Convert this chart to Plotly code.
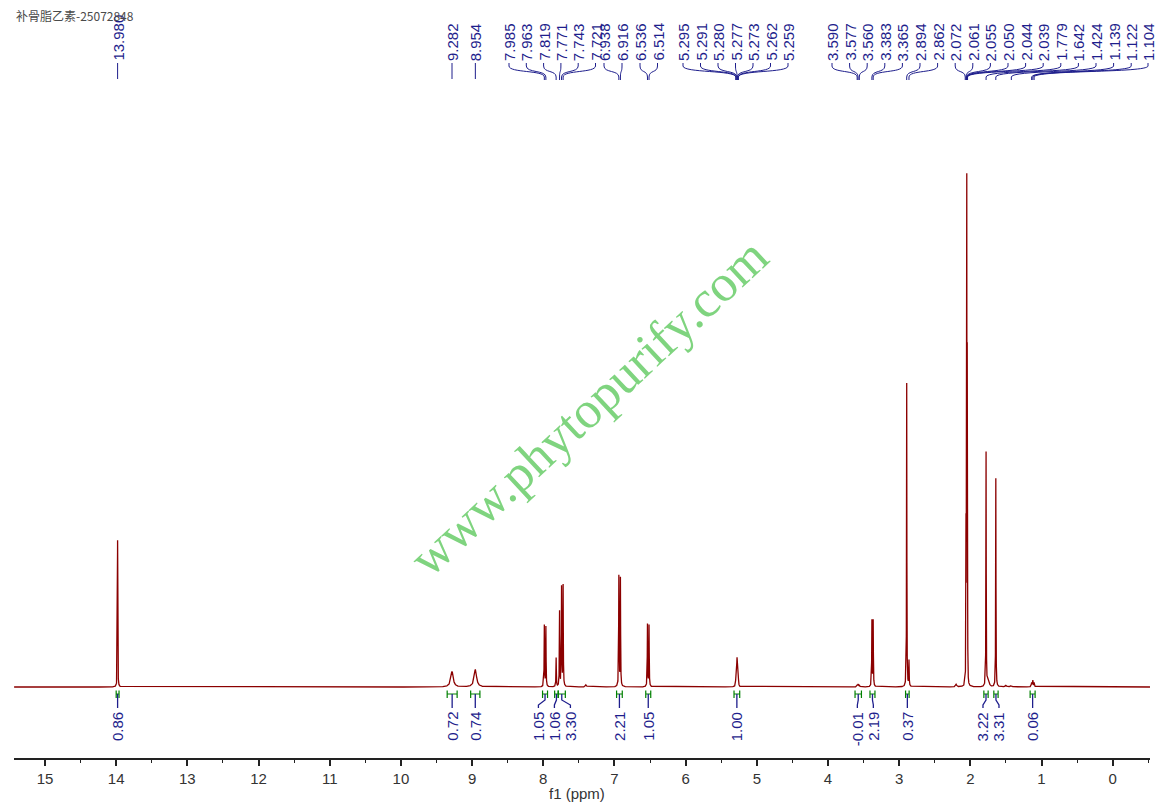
import numpy as np
import plotly.graph_objects as go

title_text = "补骨脂乙素-25072848"
watermark_text = "www.phytopurify.com"

# ---- spectrum lines: shift (ppm), relative height (tallest = 100), half width (ppm)
line_ppm = [13.980, 9.282, 8.954, 7.985, 7.963, 7.819, 7.771, 7.743, 7.721, 7.40,
            6.938, 6.916, 6.536, 6.514,
            5.295, 5.291, 5.280, 5.277, 5.273, 5.262, 5.259,
            3.590, 3.577, 3.560, 3.383, 3.365, 2.894, 2.862, 2.20,
            2.072, 2.061, 2.055, 2.050, 2.044, 2.039,
            1.779, 1.755, 1.740, 1.642, 1.50, 1.424, 1.139, 1.122, 1.104]
line_height = [28.5, 3.0, 3.4, 11.9, 11.6, 5.6, 14.6, 19.2, 19.6, 0.4,
               21.4, 21.0, 12.1, 11.9,
               0.9, 1.15, 2.5, 2.75, 2.3, 1.15, 0.9,
               0.35, 0.45, 0.35, 12.8, 12.8, 59.0, 5.0, 0.5,
               1.2, 28.0, 58.0, 90.5, 58.0, 28.0,
               45.5, 1.0, 0.8, 40.5, 0.3, 0.3, 0.8, 1.2, 0.8]
line_width = [0.0025, 0.02, 0.02, 0.003, 0.003, 0.003, 0.003, 0.003, 0.003, 0.01,
              0.003, 0.003, 0.003, 0.003,
              0.004, 0.004, 0.004, 0.004, 0.004, 0.004, 0.004,
              0.006, 0.006, 0.006, 0.003, 0.003, 0.0025, 0.003, 0.01,
              0.003, 0.0015, 0.0015, 0.0015, 0.0015, 0.0015,
              0.0025, 0.01, 0.01, 0.0025, 0.01, 0.01, 0.005, 0.005, 0.005]

# ---- peak labels (top)
label_groups = [
    ["13.980"], ["9.282"], ["8.954"],
    ["7.985", "7.963", "7.819", "7.771", "7.743", "7.721"],
    ["6.938", "6.916"],
    ["6.536", "6.514"],
    ["5.295", "5.291", "5.280", "5.277", "5.273", "5.262", "5.259"],
    ["3.590", "3.577", "3.560", "3.383", "3.365", "2.894", "2.862",
     "2.072", "2.061", "2.055", "2.050", "2.044", "2.039",
     "1.779", "1.642", "1.424", "1.139", "1.122", "1.104"],
]

# ---- integrals (bottom)
int_values = ["0.86", "0.72", "0.74", "1.05", "1.06", "3.30", "2.21", "1.05", "1.00",
              "-0.01", "2.19", "0.37", "3.22", "3.31", "0.06"]
int_from = [14.00, 9.35, 9.02, 8.01, 7.84, 7.79, 6.97, 6.56, 5.32, 3.62, 3.41, 2.91, 1.81, 1.67, 1.16]
int_to = [13.96, 9.21, 8.89, 7.94, 7.79, 7.69, 6.89, 6.49, 5.24, 3.53, 3.34, 2.86, 1.75, 1.61, 1.09]

tick_vals = list(range(0, 16))

# ---------------- layout geometry (pixels of the 1157x807 page)
W, H = 1157, 807
L_PX, R_PX = 14, 1150          # plot area left/right
AXIS_PX = 758                  # x axis line
BASE_PX = 687                  # spectrum baseline
PPM0_PX, PX_PER_PPM = 1112.7, 71.18
PX_PER_UNIT = 5.15

def xd(px):
    return (PPM0_PX - px) / PX_PER_PPM

def ppm2px(p):
    return PPM0_PX - p * PX_PER_PPM

def yp(py):
    return (AXIS_PX - py) / AXIS_PX

x_left, x_right = xd(L_PX), xd(R_PX)
y_lo = -(AXIS_PX - BASE_PX) / PX_PER_UNIT
y_hi = BASE_PX / PX_PER_UNIT

# ---------------- spectrum from the line table (Lorentzian lines)
grid = [np.arange(x_right, x_left, 0.002)]
for p, w in zip(line_ppm, line_width):
    grid.append(p + np.linspace(-12 * w, 12 * w, 161))
x = np.unique(np.concatenate(grid))
y = np.zeros_like(x)
for p, h, w in zip(line_ppm, line_height, line_width):
    y += h * w ** 2 / ((x - p) ** 2 + w ** 2)

fig = go.Figure()
fig.add_trace(go.Scatter(x=x, y=y, mode="lines", line=dict(color="#8b0000", width=1.3),
                         hoverinfo="skip", showlegend=False))

NAVY = "#1e1e8c"
GREEN = "#008000"
LAB_FONT = dict(family="Liberation Sans, Arial", size=15, color=NAVY)

annotations = []
shapes = []

# ---- peak label placement
group_layout = [None, None, None, (509, 17.3), (604, 18.0), (640, 17.5), (683, 17.5), (832, 17.6)]
for grp, lay in zip(label_groups, group_layout):
    for i, lab in enumerate(grp):
        ppx = ppm2px(float(lab))
        lx = ppx if lay is None else lay[0] + i * lay[1]
        lx = min(lx, R_PX - 2)
        annotations.append(dict(x=xd(lx), y=yp(62), xref="x", yref="paper", text=lab,
                                textangle=-90, showarrow=False, xanchor="center", yanchor="bottom",
                                font=LAB_FONT, borderpad=0))
        if lay is None:
            path = f"M {xd(lx)},{yp(63)} L {xd(lx)},{yp(79)}"
        else:
            path = (f"M {xd(lx)},{yp(63)} L {xd(lx)},{yp(66)} "
                    f"C {xd(lx)},{yp(73)} {xd(ppx)},{yp(70)} {xd(ppx)},{yp(77)} L {xd(ppx)},{yp(80)}")
        shapes.append(dict(type="path", path=path, xref="x", yref="paper",
                           line=dict(color=NAVY, width=1)))

# ---- integral labels (spread to avoid overlap)
centers = [ppm2px((a + b) / 2) for a, b in zip(int_from, int_to)]
lxs = list(centers)
GAP = 16
for _ in range(200):
    for i in range(1, len(lxs)):
        d = lxs[i] - lxs[i - 1]
        if d < GAP:
            s = (GAP - d) / 2
            lxs[i - 1] -= s
            lxs[i] += s
for a, b, c, lx, v in zip(int_from, int_to, centers, lxs, int_values):
    shapes.append(dict(type="path", xref="x", yref="paper", line=dict(color=GREEN, width=1.2),
                       path=(f"M {a},{yp(690.5)} L {a},{yp(698)} M {a},{yp(694)} L {b},{yp(694)} "
                             f"M {b},{yp(690.5)} L {b},{yp(698)}")))
    shapes.append(dict(type="path", xref="x", yref="paper", line=dict(color=NAVY, width=1.3),
                       path=(f"M {xd(c)},{yp(694)} L {xd(c)},{yp(700)} "
                             f"L {xd(lx)},{yp(705)} L {xd(lx)},{yp(708)}")))
    annotations.append(dict(x=xd(lx), y=yp(711), xref="x", yref="paper", text=v,
                            textangle=-90, showarrow=False, xanchor="center", yanchor="top",
                            font=LAB_FONT, borderpad=0))

# ---- title, watermark, axis title
annotations.append(dict(x=xd(14), y=yp(15), xref="x", yref="paper", text=title_text,
                        showarrow=False, xanchor="left", yanchor="middle",
                        font=dict(family="Noto Sans CJK SC", size=12, color="#4a4a4a")))
annotations.append(dict(x=xd(588), y=yp(407), xref="x", yref="paper", text=watermark_text,
                        showarrow=False, textangle=-43, xanchor="center", yanchor="middle",
                        font=dict(family="Liberation Serif, Times New Roman", size=52, color="#7fd47f")))
annotations.append(dict(x=xd(577), y=yp(793), xref="x", yref="paper", text="f1 (ppm)",
                        showarrow=False, xanchor="center", yanchor="middle",
                        font=dict(family="Liberation Sans, Arial", size=15, color="#333333")))

fig.update_layout(
    width=W, height=H,
    margin=dict(l=L_PX, r=W - R_PX, t=0, b=H - AXIS_PX, pad=0),
    paper_bgcolor="white", plot_bgcolor="white",
    showlegend=False, hovermode=False,
    annotations=annotations, shapes=shapes,
    xaxis=dict(range=[x_left, x_right], tickmode="array", tickvals=tick_vals,
               ticktext=[str(t) for t in tick_vals],
               showgrid=False, zeroline=False, showline=True, linecolor="#222222", linewidth=1.5,
               ticks="outside", ticklen=6, tickwidth=1.5, tickcolor="#222222",
               minor=dict(dtick=0.5, tick0=0, ticks="outside", ticklen=3.5, tickwidth=1.3, tickcolor="#222222"),
               tickfont=dict(family="Liberation Sans, Arial", size=15, color="#333333")),
    yaxis=dict(range=[y_lo, y_hi], visible=False, showgrid=False, zeroline=False),
)

fig.write_html("out.html", config={"displayModeBar": False},
               post_script="document.body.style.margin='0px';")
